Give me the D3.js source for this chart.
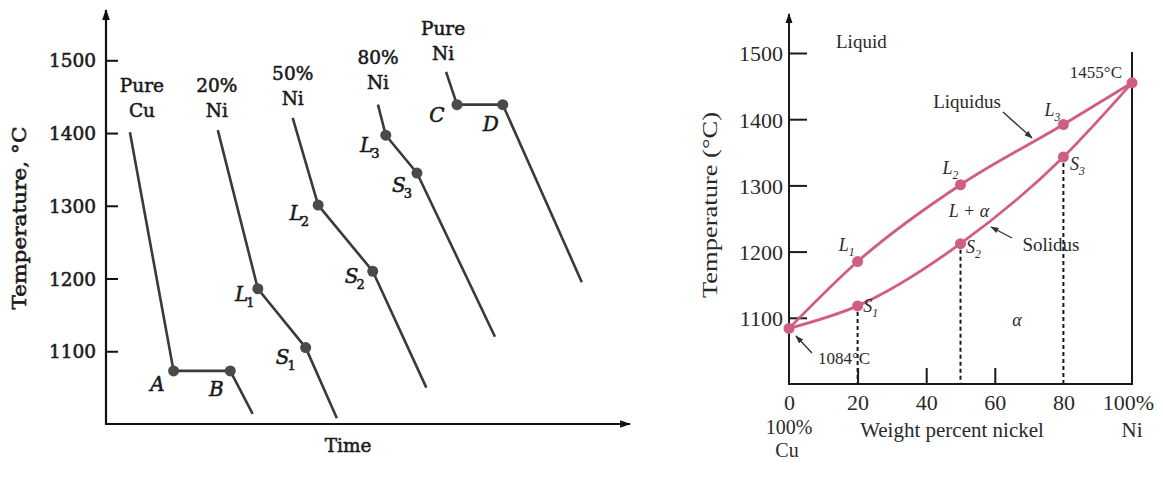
<!DOCTYPE html>
<html>
<head>
<meta charset="utf-8">
<script src="https://cdn.jsdelivr.net/npm/d3@7"></script>
<style>
  body { margin: 0; background: #fff; }
  svg { display: block; }
</style>
</head>
<body>
<svg id="chart" width="1163" height="479"></svg>
<script>
// ---- left: cooling curves, [time (arb.), temperature °C] ----
const alloyTop = ['Pure', '20%', '50%', '80%', 'Pure'];
const alloyBottom = ['Cu', 'Ni', 'Ni', 'Ni', 'Ni'];
const coolCu = [[4.6, 1401], [13.0, 1073], [23.9, 1073], [28.2, 1014]];
const cool20 = [[21.5, 1404], [29.2, 1186], [38.4, 1105], [44.4, 1008]];
const cool50 = [[35.9, 1421], [40.8, 1301], [51.3, 1210], [61.6, 1050]];
const cool80 = [[52.3, 1439], [53.8, 1397], [59.8, 1345], [74.8, 1120]];
const coolNi = [[65.4, 1484], [67.5, 1439], [76.3, 1439], [91.5, 1195]];
const coolingCurves = [coolCu, cool20, cool50, cool80, coolNi];
// names of the two marked points on each curve: [letter, subscript]
const arrestNames = [
  [['A', ''], ['B', '']],
  [['L', '1'], ['S', '1']],
  [['L', '2'], ['S', '2']],
  [['L', '3'], ['S', '3']],
  [['C', ''], ['D', '']]
];
const tempTicksL = [1100, 1200, 1300, 1400, 1500];

// ---- right: Cu-Ni phase diagram, [wt% Ni, temperature °C] ----
const liquidus = [[0, 1084], [20, 1185], [50, 1301], [80, 1392], [100, 1455]];
const solidus = [[0, 1084], [20, 1118], [50, 1212], [80, 1343], [100, 1455]];
const liqNames = [['L', '1'], ['L', '2'], ['L', '3']];
const solNames = [['S', '1'], ['S', '2'], ['S', '3']];
const tempTicksR = [1100, 1200, 1300, 1400, 1500];
const nickelTicks = [0, 20, 40, 60, 80, 100];

// layout-only offsets for the letter labels (px from the point)
const arrestOffsets = [
  [[-16, 13], [-14, 18]],
  [[-13, 5], [-20, 9]],
  [[-19, 8], [-18, 5]],
  [[-16, 10], [-15, 12]],
  [[-20, 10], [-12, 19]]
];
// gap between curve start and baseline of the lower composition line
const alloyGap = [15, 13, 13, 16, 12];
const alloyShift = [12, -1, 0, 0, -3];
const liqOffsets = [[-11, -17], [-10, -17], [-11, -15]];
const solOffsets = [[13, 0], [13, 3], [14, 7]];

const svg = d3.select('#chart');
svg.append('rect').attr('width', 1163).attr('height', 479).attr('fill', '#fff');

const defs = svg.append('defs');
defs.append('marker').attr('id', 'axisArrow')
  .attr('viewBox', '0 0 10 10').attr('refX', 9).attr('refY', 5)
  .attr('markerWidth', 5).attr('markerHeight', 5).attr('orient', 'auto')
  .attr('markerUnits', 'strokeWidth')
  .append('path').attr('d', 'M0,1.5L10,5L0,8.5Z').attr('fill', '#111');
defs.append('marker').attr('id', 'noteArrow')
  .attr('viewBox', '0 0 10 10').attr('refX', 9).attr('refY', 5)
  .attr('markerWidth', 6).attr('markerHeight', 6).attr('orient', 'auto')
  .attr('markerUnits', 'strokeWidth')
  .append('path').attr('d', 'M0,1.5L10,5L0,8.5Z').attr('fill', '#333');

// ================= LEFT PANEL =================
const xL = d3.scaleLinear().domain([0, 100]).range([106, 626]);
const yL = d3.scaleLinear().domain([1000, 1500]).range([424, 60.3]);
const inkL = '#1a1a1a';
const left = svg.append('g').attr('font-family', '"DejaVu Serif", serif')
  .attr('fill', inkL).attr('stroke', inkL).attr('stroke-width', 0.55);

// axes with arrows
left.append('line').attr('x1', xL(0)).attr('x2', xL(0)).attr('y1', yL(1000) + 1).attr('y2', 10)
  .attr('stroke', '#111').attr('stroke-width', 2.2).attr('marker-end', 'url(#axisArrow)');
left.append('line').attr('x1', xL(0) - 1).attr('x2', 630).attr('y1', yL(1000)).attr('y2', yL(1000))
  .attr('stroke', '#111').attr('stroke-width', 2.2).attr('marker-end', 'url(#axisArrow)');

const axL = left.append('g').attr('transform', `translate(${xL(0)},0)`)
  .call(d3.axisLeft(yL).tickValues(tempTicksL).tickSize(-12).tickPadding(10).tickFormat(d3.format('d')));
axL.select('.domain').remove();
axL.selectAll('.tick line').attr('stroke', '#111').attr('stroke-width', 2);
axL.selectAll('.tick text').attr('font-family', '"DejaVu Serif", serif')
  .attr('font-size', 18.5).attr('fill', inkL).attr('stroke', inkL).attr('stroke-width', 0.55)
  .attr('dy', '0.36em');

left.append('text').attr('transform', `translate(26,${218}) rotate(-90)`)
  .attr('text-anchor', 'middle').attr('font-size', 18.5)
  .attr('textLength', 183).attr('lengthAdjust', 'spacingAndGlyphs')
  .text('Temperature, °C');
left.append('text').attr('x', 348).attr('y', 452).attr('text-anchor', 'middle')
  .attr('font-size', 18.5).text('Time');

const lineL = d3.line().x(d => xL(d[0])).y(d => yL(d[1]));
coolingCurves.forEach((curve, i) => {
  left.append('path').attr('d', lineL(curve)).attr('fill', 'none')
    .attr('stroke', '#3a3a3a').attr('stroke-width', 2.6).attr('stroke-linejoin', 'round');
  // marked points are the 2nd and 3rd of each curve
  curve.slice(1, 3).forEach((p, j) => {
    left.append('circle').attr('cx', xL(p[0])).attr('cy', yL(p[1])).attr('r', 5.5)
      .attr('fill', '#4a4a4a').attr('stroke', 'none');
    const [dx, dy] = arrestOffsets[i][j];
    const [main, sub] = arrestNames[i][j];
    const t = left.append('text').attr('x', xL(p[0]) + dx).attr('y', yL(p[1]) + dy)
      .attr('dy', '0.36em').attr('text-anchor', 'middle')
      .attr('font-size', 20).attr('font-style', 'italic');
    t.append('tspan').text(main);
    if (sub) t.append('tspan').attr('font-size', 13).attr('font-style', 'normal')
      .attr('dx', -2).attr('dy', 6).text(sub);
  });
  // composition label above the starting point
  const top = curve[0];
  const cx = xL(top[0]) + alloyShift[i];
  const by = yL(top[1]) - alloyGap[i];
  left.append('text').attr('x', cx).attr('y', by).attr('text-anchor', 'middle')
    .attr('font-size', 18.5).text(alloyBottom[i]);
  left.append('text').attr('x', cx).attr('y', by - 25).attr('text-anchor', 'middle')
    .attr('font-size', 18.5).text(alloyTop[i]);
});

// ================= RIGHT PANEL =================
const xR = d3.scaleLinear().domain([0, 100]).range([789, 1132]);
const yR = d3.scaleLinear().domain([1000, 1500]).range([384, 53]);
const pink = '#cf5d85';
const right = svg.append('g').attr('font-family', '"Liberation Serif", "Times New Roman", serif').attr('fill', '#2a2a2a');

right.append('line').attr('x1', xR(0)).attr('x2', xR(0)).attr('y1', yR(1000) + 1).attr('y2', 14)
  .attr('stroke', '#1a1a1a').attr('stroke-width', 2).attr('marker-end', 'url(#axisArrow)');
right.append('line').attr('x1', xR(0)).attr('x2', xR(100) + 1).attr('y1', yR(1000)).attr('y2', yR(1000))
  .attr('stroke', '#1a1a1a').attr('stroke-width', 2.2);
right.append('line').attr('x1', xR(100)).attr('x2', xR(100)).attr('y1', yR(1000)).attr('y2', 52)
  .attr('stroke', '#1a1a1a').attr('stroke-width', 2);

const axRy = right.append('g').attr('transform', `translate(${xR(0)},0)`)
  .call(d3.axisLeft(yR).tickValues(tempTicksR).tickSize(-18).tickPadding(6).tickFormat(d3.format('d')));
axRy.select('.domain').remove();
axRy.selectAll('.tick line').attr('stroke', '#1a1a1a').attr('stroke-width', 2);
axRy.selectAll('.tick text').attr('font-family', '"Liberation Serif", serif')
  .attr('font-size', 22).attr('fill', '#2a2a2a').attr('dy', '0.36em');

const axRx = right.append('g').attr('transform', `translate(0,${yR(1000)})`)
  .call(d3.axisBottom(xR).tickValues(nickelTicks).tickSize(-16).tickPadding(10)
    .tickFormat(d => d === 100 ? '100%' : d));
axRx.select('.domain').remove();
axRx.selectAll('.tick line').attr('stroke', '#1a1a1a').attr('stroke-width', 2)
  .attr('display', d => (d === 0 || d === 100 || d === 80) ? 'none' : null);
axRx.selectAll('.tick text').attr('font-family', '"Liberation Serif", serif')
  .attr('font-size', 22).attr('fill', '#2a2a2a')
  .attr('dx', d => d === 100 ? -4 : 0);

right.append('text').attr('x', xR(0)).attr('y', 434).attr('text-anchor', 'middle')
  .attr('font-size', 20).text('100%');
right.append('text').attr('x', xR(0) - 2).attr('y', 457).attr('text-anchor', 'middle')
  .attr('font-size', 20).text('Cu');
right.append('text').attr('x', 952).attr('y', 437).attr('text-anchor', 'middle')
  .attr('font-size', 21).text('Weight percent nickel');
right.append('text').attr('x', xR(100)).attr('y', 437).attr('text-anchor', 'middle')
  .attr('font-size', 21).text('Ni');
right.append('text').attr('transform', 'translate(717,205) rotate(-90)')
  .attr('text-anchor', 'middle').attr('font-size', 21)
  .attr('textLength', 186).attr('lengthAdjust', 'spacingAndGlyphs')
  .text('Temperature (°C)');

// dashed drops from the solidus points
solidus.slice(1, 4).forEach(p => {
  right.append('line').attr('x1', xR(p[0])).attr('x2', xR(p[0]))
    .attr('y1', yR(p[1]) + 6).attr('y2', yR(1000))
    .attr('stroke', '#1a1a1a').attr('stroke-width', 2).attr('stroke-dasharray', '4,3');
});

const lineR = d3.line().x(d => xR(d[0])).y(d => yR(d[1])).curve(d3.curveMonotoneX);
[liquidus, solidus].forEach(c => {
  right.append('path').attr('d', lineR(c)).attr('fill', 'none')
    .attr('stroke', pink).attr('stroke-width', 2.8);
});

function subLabel(g, x, y, main, sub, size) {
  const t = g.append('text').attr('x', x).attr('y', y).attr('dy', '0.36em')
    .attr('text-anchor', 'middle').attr('font-size', size).attr('font-style', 'italic');
  t.append('tspan').text(main);
  t.append('tspan').attr('font-size', size * 0.65).attr('dy', 5).text(sub);
}

liquidus.slice(1, 4).forEach((p, i) => {
  right.append('circle').attr('cx', xR(p[0])).attr('cy', yR(p[1])).attr('r', 5.5).attr('fill', pink);
  subLabel(right, xR(p[0]) + liqOffsets[i][0], yR(p[1]) + liqOffsets[i][1], liqNames[i][0], liqNames[i][1], 18);
});
solidus.slice(1, 4).forEach((p, i) => {
  right.append('circle').attr('cx', xR(p[0])).attr('cy', yR(p[1])).attr('r', 5.5).attr('fill', pink);
  subLabel(right, xR(p[0]) + solOffsets[i][0], yR(p[1]) + solOffsets[i][1], solNames[i][0], solNames[i][1], 18);
});
[liquidus[0], liquidus[4]].forEach(p => {
  right.append('circle').attr('cx', xR(p[0])).attr('cy', yR(p[1])).attr('r', 5.5).attr('fill', pink);
});

// region names and notes
right.append('text').attr('x', 836).attr('y', 48).attr('font-size', 19).text('Liquid');
right.append('text').attr('x', 1122).attr('y', 78).attr('text-anchor', 'end').attr('font-size', 17).text('1455°C');
right.append('text').attr('x', 967).attr('y', 108).attr('text-anchor', 'middle').attr('font-size', 19).text('Liquidus');
right.append('text').attr('x', 1051).attr('y', 251).attr('text-anchor', 'middle').attr('font-size', 19).text('Solidus');
right.append('text').attr('x', 844).attr('y', 364).attr('text-anchor', 'middle').attr('font-size', 17).text('1084°C');
right.append('text').attr('x', 969).attr('y', 217).attr('text-anchor', 'middle').attr('font-size', 18)
  .attr('font-style', 'italic').text('L + α');
right.append('text').attr('x', 1017).attr('y', 326).attr('text-anchor', 'middle').attr('font-size', 18)
  .attr('font-style', 'italic').text('α');

const notes = [[1003, 112, 1032, 138], [1012, 238, 991, 227], [812, 353, 796, 336]];
notes.forEach(n => {
  right.append('line').attr('x1', n[0]).attr('y1', n[1]).attr('x2', n[2]).attr('y2', n[3])
    .attr('stroke', '#333').attr('stroke-width', 1.4).attr('marker-end', 'url(#noteArrow)');
});
</script>
</body>
</html>
